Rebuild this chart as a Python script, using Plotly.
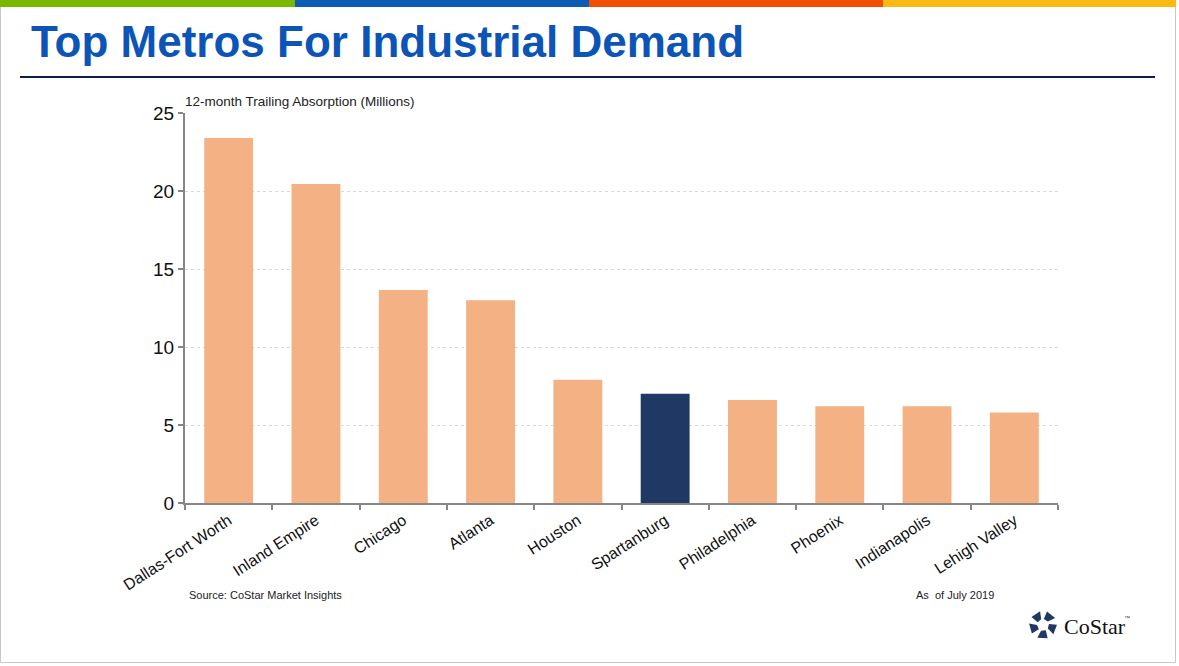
import plotly.graph_objects as go
import math

metros = ["Dallas-Fort Worth", "Inland Empire", "Chicago", "Atlanta", "Houston",
          "Spartanburg", "Philadelphia", "Phoenix", "Indianapolis", "Lehigh Valley"]
absorption = [23.4, 20.45, 13.65, 13.0, 7.9, 7.0, 6.6, 6.2, 6.2, 5.8]
highlight = "Spartanburg"
y_ticks = [0, 5, 10, 15, 20, 25]

W, H = 1179, 666
L, R, T, B = 185, 1058, 113, 503

def px(x):
    return (x - L) / (R - L)

def py(y):
    return (B - y) / (B - T)

colors = ["#1f3864" if m == highlight else "#f4b183" for m in metros]

fig = go.Figure(go.Bar(x=metros, y=absorption, marker=dict(color=colors, line=dict(width=0)),
                       hoverinfo="x+y"))

shapes = []
# border
shapes.append(dict(type="rect", xref="paper", yref="paper", x0=px(0.5), x1=px(1175.5), y0=py(0), y1=py(662.5),
                   line=dict(color="#c8c8c8", width=1), fillcolor="rgba(0,0,0,0)", layer="below"))
# stripes
stripe_cols = ["#7ab800", "#0c5bb5", "#f04e00", "#fdb913"]
bounds = [0, 295, 589, 883, 1176]
for i, c in enumerate(stripe_cols):
    shapes.append(dict(type="rect", xref="paper", yref="paper", x0=px(bounds[i]), x1=px(bounds[i + 1]),
                       y0=py(0), y1=py(7), line=dict(width=0), fillcolor=c))
# navy rule under title
shapes.append(dict(type="line", xref="paper", yref="paper", x0=px(20), x1=px(1155), y0=py(77), y1=py(77),
                   line=dict(color="#0f1f45", width=2)))

# CoStar logo: five quads in a ring
cx, cy, r_out, r_in = 1043, 625, 14, 6
for k in range(5):
    a0 = math.radians(-90 + k * 72 + 8)
    a1 = math.radians(-90 + k * 72 + 60)
    pts = [(cx + r_in * math.cos(a0), cy + r_in * math.sin(a0)),
           (cx + r_out * math.cos(a0 + 0.15), cy + r_out * math.sin(a0 + 0.15)),
           (cx + r_out * math.cos(a1), cy + r_out * math.sin(a1)),
           (cx + r_in * math.cos(a1 - 0.1), cy + r_in * math.sin(a1 - 0.1))]
    path = "M " + " L ".join(f"{px(x):.5f},{py(y):.5f}" for x, y in pts) + " Z"
    shapes.append(dict(type="path", xref="paper", yref="paper", path=path,
                       fillcolor="#1f3864", line=dict(width=0)))

small = dict(family="Liberation Sans, Arial", size=11, color="#222222")
annotations = [
    dict(text="<b>Top Metros For Industrial Demand</b>", x=px(29), y=py(41), xref="paper", yref="paper",
         xanchor="left", yanchor="middle", showarrow=False,
         font=dict(family="Liberation Sans, Arial", size=44, color="#0c55b7")),
    dict(text="12-month Trailing Absorption (Millions)", x=px(183), y=py(101), xref="paper", yref="paper",
         xanchor="left", yanchor="middle", showarrow=False,
         font=dict(family="Liberation Sans, Arial", size=13.5, color="#222222")),
    dict(text="Source: CoStar Market Insights", x=px(187), y=py(595), xref="paper", yref="paper",
         xanchor="left", yanchor="middle", showarrow=False, font=small),
    dict(text="As  of July 2019", x=px(914), y=py(595), xref="paper", yref="paper",
         xanchor="left", yanchor="middle", showarrow=False, font=small),
    dict(text="CoStar", x=px(1062), y=py(626), xref="paper", yref="paper",
         xanchor="left", yanchor="middle", showarrow=False,
         font=dict(family="Liberation Serif, Times New Roman", size=22, color="#111111")),
    dict(text="™", x=px(1122), y=py(623), xref="paper", yref="paper",
         xanchor="left", yanchor="bottom", showarrow=False,
         font=dict(family="Liberation Sans, Arial", size=6, color="#444444")),
]

fig.update_layout(
    width=W, height=H,
    margin=dict(l=L, r=W - R, t=T, b=H - B),
    paper_bgcolor="white", plot_bgcolor="white",
    showlegend=False, bargap=0.44,
    shapes=shapes, annotations=annotations,
    font=dict(family="Liberation Sans, Arial", color="#111111"),
    xaxis=dict(showline=True, linecolor="#868686", linewidth=2, ticks="outside", tickson="boundaries",
               ticklen=5, tickcolor="#868686", tickwidth=2, tickangle=-33,
               tickfont=dict(size=16, color="#111111"), showgrid=False),
    yaxis=dict(range=[0, 25], tickvals=y_ticks, showline=True, linecolor="#868686", linewidth=2,
               ticks="outside", ticklen=5, tickcolor="#868686", tickwidth=2,
               tickfont=dict(size=19, color="#111111"), showgrid=True, gridcolor="#d9d9d9",
               griddash="dot", gridwidth=1, zeroline=False),
)

fig.write_html("out.html")
